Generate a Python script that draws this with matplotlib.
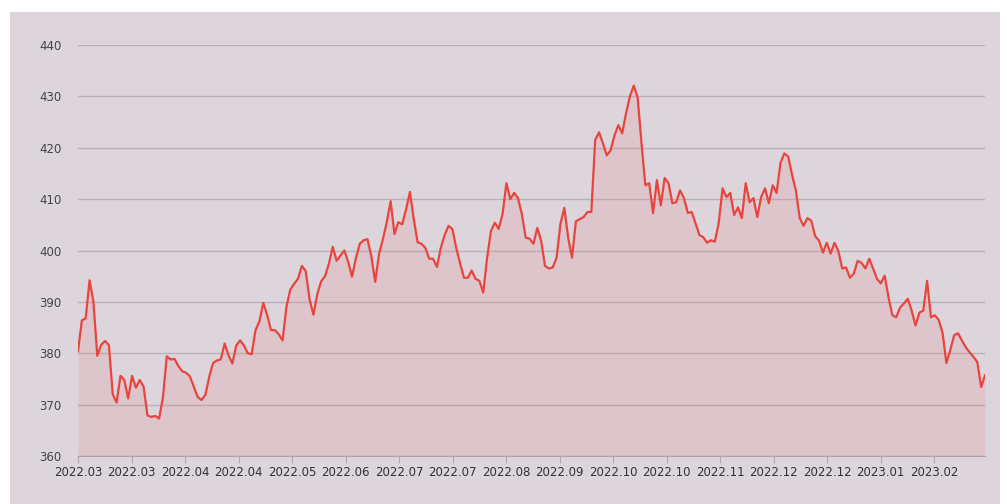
#!/usr/bin/env python3
"""Daily closing price, 2022.03 - 2023.02, red area line."""

import matplotlib
matplotlib.use("Agg")
import matplotlib.pyplot as plt
from matplotlib.patches import Rectangle
import numpy as np

# daily values, left to right
prices = [
    380.4, 386.4, 386.8, 394.2, 390.0, 379.5, 381.6, 382.4, 381.6, 372.0,
    370.4, 375.6, 374.8, 371.2, 375.6, 373.3, 374.8, 373.5, 367.9, 367.6,
    367.8, 367.3, 371.3, 379.4, 378.8, 378.9, 377.5, 376.5, 376.2, 375.5,
    373.5, 371.5, 370.9, 371.9, 375.4, 378.1, 378.6, 378.8, 381.9, 379.6,
    378.0, 381.5, 382.5, 381.5, 380.0, 379.8, 384.5, 386.2, 389.8, 387.5,
    384.5, 384.5, 383.7, 382.5, 389.0, 392.4, 393.5, 394.5, 397.0, 396.0,
    390.5, 387.5, 391.5, 394.0, 395.0, 397.4, 400.7, 398.0, 399.0, 400.0,
    397.8, 394.9, 398.5, 401.3, 402.0, 402.2, 398.9, 393.9, 399.3, 402.2,
    405.5, 409.6, 403.2, 405.5, 405.1, 408.0, 411.4, 406.1, 401.6, 401.3,
    400.5, 398.4, 398.4, 396.8, 400.5, 403.0, 404.8, 404.2, 400.5, 397.5,
    394.7, 394.7, 396.1, 394.5, 394.1, 391.8, 398.6, 403.8, 405.4, 404.2,
    407.1, 413.1, 410.0, 411.2, 410.2, 407.1, 402.5, 402.3, 401.3, 404.4,
    401.9, 397.0, 396.5, 396.7, 398.6, 405.2, 408.3, 402.5, 398.6, 405.7,
    406.1, 406.5, 407.5, 407.5, 421.5, 423.0, 420.9, 418.5, 419.5, 422.4,
    424.4, 422.8, 426.7, 430.0, 432.1, 429.8, 420.9, 412.7, 413.1, 407.3,
    413.7, 408.8, 414.1, 413.1, 409.2, 409.4, 411.7, 410.2, 407.3, 407.5,
    405.3, 403.0, 402.6, 401.5, 402.0, 401.7, 405.3, 412.1, 410.4, 411.2,
    406.9, 408.4, 406.3, 413.1, 409.4, 410.2, 406.5, 410.4, 412.1, 409.2,
    412.7, 411.2, 417.0, 418.9, 418.3, 414.8, 411.7, 406.3, 404.8, 406.3,
    405.8, 402.8, 401.9, 399.6, 401.5, 399.4, 401.5, 399.9, 396.5, 396.7,
    394.7, 395.5, 398.0, 397.6, 396.5, 398.4, 396.5, 394.5, 393.6, 395.1,
    390.9, 387.4, 387.0, 388.9, 389.7, 390.6, 388.3, 385.4, 387.9, 388.3,
    394.1, 387.0, 387.4, 386.5, 384.0, 378.1, 380.6, 383.5, 383.9, 382.5,
    381.2, 380.2, 379.3, 378.3, 373.4, 375.7,
]

month_labels = [
    "2022.03", "2022.03", "2022.04", "2022.04", "2022.05", "2022.06",
    "2022.07", "2022.07", "2022.08", "2022.09", "2022.10", "2022.10",
    "2022.11", "2022.12", "2022.12", "2023.01", "2023.02",
]

y_ticks = [360, 370, 380, 390, 400, 410, 420, 430, 440]

LINE = "#e8453e"
BG = "#dcd5dc"
GRID = "#b9b1b9"

fig = plt.figure(figsize=(10.07, 5.04), dpi=100, facecolor="white")
# greyish photo backdrop, kept behind the axes
fig.patches.append(Rectangle((10 / 1007, 0), 990 / 1007, 492 / 504,
                             transform=fig.transFigure, facecolor=BG,
                             edgecolor="none", zorder=-10))

ax = fig.add_axes([78 / 1007, 1 - 456 / 504, 907 / 1007, 411 / 504])
ax.set_facecolor("none")
ax.set_zorder(1)

x = np.arange(len(prices))
ax.plot(x, prices, color=LINE, linewidth=1.6, zorder=3)
ax.fill_between(x, prices, 360, color="#e87f7f", alpha=0.18, linewidth=0, zorder=2)

ax.set_xlim(0, len(prices) - 1)
ax.set_ylim(360, 440)

ax.set_yticks(y_ticks)
ax.set_yticklabels([str(v) for v in y_ticks])
ax.grid(axis="y", color=GRID, linewidth=1.0)
ax.set_axisbelow(True)

# labels sit ~53.5px apart on a 907px wide axis
step = (len(prices) - 1) * 53.5 / 907
ax.set_xticks(np.arange(len(month_labels)) * step)
ax.set_xticklabels(month_labels)

for side in ("top", "right", "left"):
    ax.spines[side].set_visible(False)
ax.spines["bottom"].set_color("#a9a2a9")

ax.tick_params(axis="y", length=0, pad=12, labelsize=8.5, labelcolor="#444444")
ax.tick_params(axis="x", length=5, color="#b0a8b0", pad=2, labelsize=8.5,
               labelcolor="#333333")

fig.savefig("out.png", dpi=100, facecolor=fig.get_facecolor())
